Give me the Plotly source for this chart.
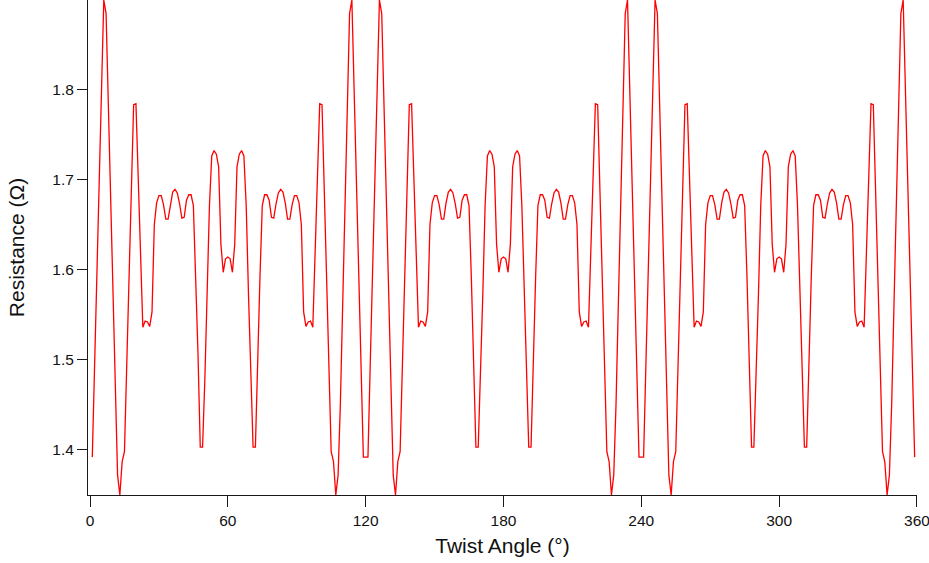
import plotly.graph_objects as go

# Twist angle in degrees (1° steps)
angle = list(range(1, 360))

# Measured resistance (Ω) at each twist angle
resistance = [
    1.392, 1.495, 1.595, 1.695, 1.794, 1.899, 1.884, 1.780, 1.672, 1.561,  # 1-10
    1.451, 1.372, 1.350, 1.387, 1.398, 1.494, 1.591, 1.687, 1.783, 1.784,  # 11-20
    1.700, 1.615, 1.536, 1.543, 1.542, 1.537, 1.553, 1.650, 1.674, 1.682,  # 21-30
    1.682, 1.672, 1.656, 1.656, 1.674, 1.686, 1.689, 1.685, 1.673, 1.657,  # 31-40
    1.658, 1.677, 1.683, 1.683, 1.671, 1.592, 1.508, 1.403, 1.403, 1.478,  # 41-50
    1.572, 1.671, 1.726, 1.732, 1.728, 1.714, 1.628, 1.597, 1.612, 1.614,  # 51-60
    1.612, 1.597, 1.628, 1.714, 1.728, 1.732, 1.726, 1.671, 1.572, 1.478,  # 61-70
    1.403, 1.403, 1.508, 1.592, 1.671, 1.683, 1.683, 1.677, 1.658, 1.657,  # 71-80
    1.673, 1.685, 1.689, 1.686, 1.674, 1.656, 1.656, 1.672, 1.682, 1.682,  # 81-90
    1.674, 1.650, 1.553, 1.537, 1.542, 1.543, 1.536, 1.615, 1.700, 1.784,  # 91-100
    1.783, 1.687, 1.591, 1.494, 1.398, 1.387, 1.350, 1.372, 1.451, 1.561,  # 101-110
    1.672, 1.780, 1.884, 1.899, 1.794, 1.695, 1.595, 1.495, 1.392, 1.392,  # 111-120
    1.392, 1.495, 1.595, 1.695, 1.794, 1.899, 1.884, 1.780, 1.672, 1.561,  # 121-130
    1.451, 1.372, 1.350, 1.387, 1.398, 1.494, 1.591, 1.687, 1.783, 1.784,  # 131-140
    1.700, 1.615, 1.536, 1.543, 1.542, 1.537, 1.553, 1.650, 1.674, 1.682,  # 141-150
    1.682, 1.672, 1.656, 1.656, 1.674, 1.686, 1.689, 1.685, 1.673, 1.657,  # 151-160
    1.658, 1.677, 1.683, 1.683, 1.671, 1.592, 1.508, 1.403, 1.403, 1.478,  # 161-170
    1.572, 1.671, 1.726, 1.732, 1.728, 1.714, 1.628, 1.597, 1.612, 1.614,  # 171-180
    1.612, 1.597, 1.628, 1.714, 1.728, 1.732, 1.726, 1.671, 1.572, 1.478,  # 181-190
    1.403, 1.403, 1.508, 1.592, 1.671, 1.683, 1.683, 1.677, 1.658, 1.657,  # 191-200
    1.673, 1.685, 1.689, 1.686, 1.674, 1.656, 1.656, 1.672, 1.682, 1.682,  # 201-210
    1.674, 1.650, 1.553, 1.537, 1.542, 1.543, 1.536, 1.615, 1.700, 1.784,  # 211-220
    1.783, 1.687, 1.591, 1.494, 1.398, 1.387, 1.350, 1.372, 1.451, 1.561,  # 221-230
    1.672, 1.780, 1.884, 1.899, 1.794, 1.695, 1.595, 1.495, 1.392, 1.392,  # 231-240
    1.392, 1.495, 1.595, 1.695, 1.794, 1.899, 1.884, 1.780, 1.672, 1.561,  # 241-250
    1.451, 1.372, 1.350, 1.387, 1.398, 1.494, 1.591, 1.687, 1.783, 1.784,  # 251-260
    1.700, 1.615, 1.536, 1.543, 1.542, 1.537, 1.553, 1.650, 1.674, 1.682,  # 261-270
    1.682, 1.672, 1.656, 1.656, 1.674, 1.686, 1.689, 1.685, 1.673, 1.657,  # 271-280
    1.658, 1.677, 1.683, 1.683, 1.671, 1.592, 1.508, 1.403, 1.403, 1.478,  # 281-290
    1.572, 1.671, 1.726, 1.732, 1.728, 1.714, 1.628, 1.597, 1.612, 1.614,  # 291-300
    1.612, 1.597, 1.628, 1.714, 1.728, 1.732, 1.726, 1.671, 1.572, 1.478,  # 301-310
    1.403, 1.403, 1.508, 1.592, 1.671, 1.683, 1.683, 1.677, 1.658, 1.657,  # 311-320
    1.673, 1.685, 1.689, 1.686, 1.674, 1.656, 1.656, 1.672, 1.682, 1.682,  # 321-330
    1.674, 1.650, 1.553, 1.537, 1.542, 1.543, 1.536, 1.615, 1.700, 1.784,  # 331-340
    1.783, 1.687, 1.591, 1.494, 1.398, 1.387, 1.350, 1.372, 1.451, 1.561,  # 341-350
    1.672, 1.780, 1.884, 1.899, 1.794, 1.695, 1.595, 1.495, 1.392,         # 351-359
]

x_ticks = [0, 60, 120, 180, 240, 300, 360]
y_ticks = [1.4, 1.5, 1.6, 1.7, 1.8]

FONT = "Liberation Sans, Arial, Helvetica, sans-serif"

fig = go.Figure(
    go.Scatter(
        x=angle,
        y=resistance,
        mode="lines",
        line=dict(color="#ff0000", width=1.3),
        hoverinfo="x+y",
    )
)

axis_common = dict(
    showgrid=False,
    zeroline=False,
    showline=True,
    linecolor="#1a1a1a",
    linewidth=1,
    ticks="outside",
    tickcolor="#1a1a1a",
    tickwidth=1,
    ticklabeloverflow="allow",
    tickfont=dict(family=FONT, size=15.5, color="#111"),
    title_font=dict(family=FONT, size=21, color="#111"),
)

fig.update_layout(
    width=929,
    height=563,
    margin=dict(l=88, r=12, t=0, b=68, pad=0),
    paper_bgcolor="white",
    plot_bgcolor="white",
    showlegend=False,
    xaxis=dict(
        range=[-0.87, 360.02],
        tickvals=x_ticks,
        ticklen=11,
        title=dict(text="Twist Angle (°)", standoff=10),
        **axis_common,
    ),
    yaxis=dict(
        range=[1.35, 1.899],
        tickvals=y_ticks,
        tickformat=".1f",
        ticklen=10,
        title=dict(text="Resistance (Ω)", standoff=21),
        **axis_common,
    ),
)

fig.write_html("out.html")
